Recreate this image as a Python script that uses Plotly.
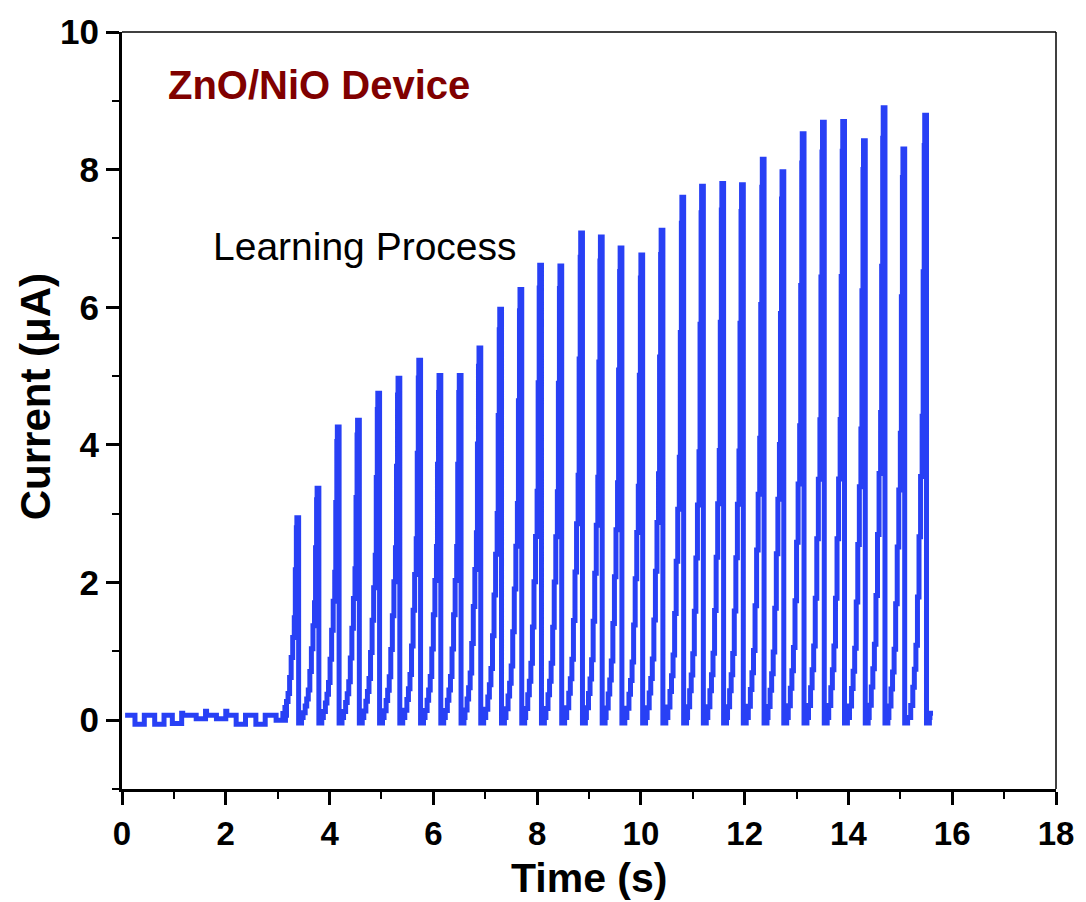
import plotly.graph_objects as go

# ---- data ----
peak_times = [3.37, 3.76, 4.15, 4.54, 4.93, 5.32, 5.72, 6.11, 6.50, 6.88, 7.28, 7.67,
              8.05, 8.44, 8.84, 9.22, 9.60, 10.00, 10.39, 10.79, 11.17, 11.56, 11.94, 12.34,
              12.72, 13.11, 13.50, 13.89, 14.29, 14.67, 15.05, 15.47]
peak_heights = [2.94, 3.37, 4.26, 4.36, 4.75, 4.97, 5.23, 5.01, 5.01, 5.41, 5.97, 6.26,
                6.61, 6.60, 7.08, 7.02, 6.86, 6.76, 7.12, 7.60, 7.76, 7.80, 7.78, 8.15,
                7.97, 8.52, 8.69, 8.70, 8.42, 8.90, 8.30, 8.79]
# pulse rise shape (seconds relative to peak, fraction of peak)
rise_dt = [-0.27, -0.23, -0.20, -0.17, -0.14, -0.11, -0.08, -0.05, -0.03, -0.01]
rise_frac = [0.02, 0.05, 0.08, 0.12, 0.20, 0.30, 0.40, 0.50, 0.74, 0.95]
peak_hold = 0.03
base_low = -0.04
base_high = 0.04

# sub-threshold pulses before learning
pre_times = [0.35, 0.73, 1.07, 1.53, 1.92, 2.30, 2.68, 3.07]
pre_low = [-0.06, -0.06, -0.05, 0.02, 0.02, -0.06, -0.06, 0.0]
pre_high = [0.07, 0.07, 0.10, 0.13, 0.13, 0.07, 0.07, 0.12]
pre_base = 0.07
t_start = 0.06
t_end = 15.63

x = [t_start]
y = [pre_base]
for t, lo, hi in zip(pre_times, pre_low, pre_high):
    x += [t - 0.1, t - 0.1, t, t + 0.08, t + 0.1]
    y += [pre_base, lo, lo, hi, pre_base]

for t, h in zip(peak_times, peak_heights):
    for dt, f in zip(rise_dt, rise_frac):
        x.append(t + dt)
        y.append(base_high + f * (h - base_high))
    x += [t, t + peak_hold, t + peak_hold + 0.004, t + 0.09]
    y += [h, h, base_low, base_high]

x += [t_end - 0.06, t_end]
y += [0.1, 0.1]

fig = go.Figure()
fig.add_trace(go.Scatter(x=x, y=y, mode="lines", line=dict(color="#2840f5", width=5, shape="hv"),
                         showlegend=False, hoverinfo="skip"))

FONT = "Arial, Liberation Sans, sans-serif"
axis_common = dict(
    showline=True, linecolor="black", linewidth=3, mirror=False,
    ticks="outside", ticklen=13, tickwidth=2.5, tickcolor="black",
    showgrid=False, zeroline=False,
)
fig.update_xaxes(range=[0, 18], dtick=2, tick0=0,
                 tickfont=dict(family=FONT, size=33, color="black", weight="bold"),
                 minor=dict(ticks="outside", ticklen=7, tickwidth=2, dtick=1, tickcolor="black"),
                 **axis_common)
fig.update_yaxes(range=[-1, 10], dtick=2, tick0=0,
                 tickfont=dict(family=FONT, size=35, color="black", weight="bold"),
                 minor=dict(ticks="outside", ticklen=7, tickwidth=2, dtick=1, tickcolor="black"),
                 **axis_common)

fig.add_shape(type="line", xref="paper", yref="paper", x0=0, x1=1, y0=1, y1=1,
              line=dict(color="black", width=1.5))
fig.add_shape(type="line", xref="paper", yref="paper", x0=1, x1=1, y0=0, y1=1,
              line=dict(color="black", width=1.5))

fig.add_annotation(text="<b>ZnO/NiO Device</b>", xref="paper", yref="paper",
                   x=0.047, y=0.930, xanchor="left", yanchor="middle", showarrow=False,
                   font=dict(family=FONT, size=40, color="#800000"))
fig.add_annotation(text="Learning Process", xref="paper", yref="paper",
                   x=0.095, y=0.716, xanchor="left", yanchor="middle", showarrow=False,
                   font=dict(family=FONT, size=39, color="black"))
fig.add_annotation(text="<b>Time (s)</b>", xref="paper", yref="paper",
                   x=0.5, y=-0.118, xanchor="center", yanchor="middle", showarrow=False,
                   font=dict(family=FONT, size=41, color="black"))
fig.add_annotation(text="<b>Current (μA)</b>", xref="paper", yref="paper",
                   x=-0.0927, y=0.518, xanchor="center", yanchor="middle", showarrow=False,
                   textangle=-90, font=dict(family=FONT, size=42, color="black"))

fig.update_layout(width=1086, height=902, margin=dict(l=122, r=25, t=32, b=113),
                  paper_bgcolor="white", plot_bgcolor="white")
fig.write_html("out.html")
